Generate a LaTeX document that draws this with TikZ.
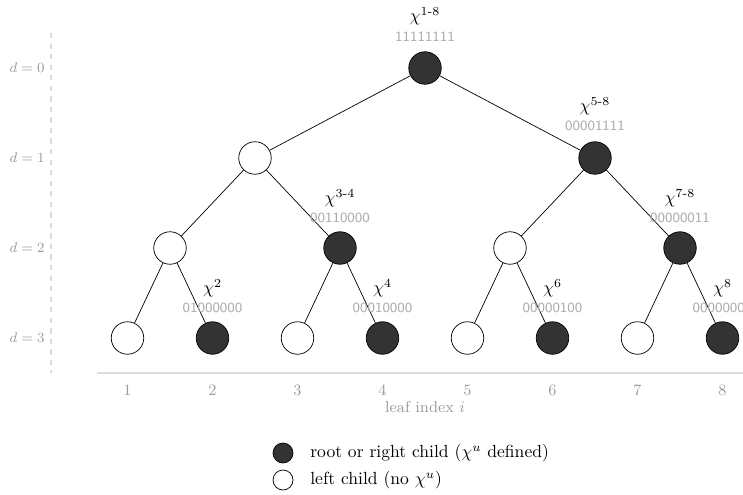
\documentclass[tikz,border=0pt]{standalone}
\usepackage{amsmath}
\usepackage{xcolor}
\usepackage{tikz}
\usetikzlibrary{positioning}

\definecolor{darkfill}{HTML}{333333}
\definecolor{labelgray}{HTML}{9A9A9A}
\definecolor{codegray}{HTML}{ACACAC}
\definecolor{rulegray}{HTML}{DCDCDC}

\begin{document}
\begin{tikzpicture}[on grid, node distance=1.8cm,
    treenode/.style={circle, draw, thin, minimum size=0.65cm, inner sep=0pt},
    chinode/.style={treenode, fill=darkfill},
    plainnode/.style={treenode, fill=white},
    chitext/.style={inner sep=0pt},
    codetext/.style={inner sep=0pt, text=codegray, font=\footnotesize\sffamily},
    depthtext/.style={anchor=east, inner sep=0pt, text=labelgray, font=\footnotesize},
    axistext/.style={inner sep=0pt, text=labelgray, font=\small}]
\useasboundingbox (0,0) rectangle (14.86,-9.9);

% Level 0
\node [chinode] (r18) at (8.5,-1.36) {};

% Level 1
\node [plainnode, below left=1.8cm and 3.4cm of r18] (a14) {};
\node [chinode, below right=1.8cm and 3.4cm of r18] (a58) {};

% Level 2
\node [plainnode, below left=1.8cm and 1.7cm of a14] (a12) {};
\node [chinode, below right=1.8cm and 1.7cm of a14] (a34) {};
\node [plainnode, below left=1.8cm and 1.7cm of a58] (a56) {};
\node [chinode, below right=1.8cm and 1.7cm of a58] (a78) {};

% Level 3 (leaves)
\node [plainnode, below left=1.8cm and 0.85cm of a12] (l1) {};
\node [chinode, below right=1.8cm and 0.85cm of a12] (l2) {};
\node [plainnode, below left=1.8cm and 0.85cm of a34] (l3) {};
\node [chinode, below right=1.8cm and 0.85cm of a34] (l4) {};
\node [plainnode, below left=1.8cm and 0.85cm of a56] (l5) {};
\node [chinode, below right=1.8cm and 0.85cm of a56] (l6) {};
\node [plainnode, below left=1.8cm and 0.85cm of a78] (l7) {};
\node [chinode, below right=1.8cm and 0.85cm of a78] (l8) {};

% Edges
\draw (r18) -- (a14);
\draw (r18) -- (a58);
\draw (a14) -- (a12);
\draw (a14) -- (a34);
\draw (a58) -- (a56);
\draw (a58) -- (a78);
\draw (a12) -- (l1);
\draw (a12) -- (l2);
\draw (a34) -- (l3);
\draw (a34) -- (l4);
\draw (a56) -- (l5);
\draw (a56) -- (l6);
\draw (a78) -- (l7);
\draw (a78) -- (l8);

% Labels of the filled nodes
\node [codetext, above=0.2cm of r18.north] (c18) {11111111};
\node [chitext, above=0.4cm of c18] (x18) {$\chi^{\text{1-8}}$};
\node [codetext, above=0.2cm of a58.north] (c58) {00001111};
\node [chitext, above=0.4cm of c58] (x58) {$\chi^{\text{5-8}}$};
\node [codetext, above=0.16cm of a34.north] (c34) {00110000};
\node [chitext, above=0.4cm of c34] (x34) {$\chi^{\text{3-4}}$};
\node [codetext, above=0.16cm of a78.north] (c78) {00000011};
\node [chitext, above=0.4cm of c78] (x78) {$\chi^{\text{7-8}}$};
\node [codetext, above=0.16cm of l2.north] (c2) {01000000};
\node [chitext, above=0.4cm of c2] (x2) {$\chi^{2}$};
\node [codetext, above=0.16cm of l4.north] (c4) {00010000};
\node [chitext, above=0.4cm of c4] (x4) {$\chi^{4}$};
\node [codetext, above=0.16cm of l6.north] (c6) {00000100};
\node [chitext, above=0.4cm of c6] (x6) {$\chi^{6}$};
\node [codetext, above=0.16cm of l8.north] (c8) {00000001};
\node [chitext, above=0.4cm of c8] (x8) {$\chi^{8}$};

% Depth axis
\node [depthtext] (d0) at (0.9,-1.36) {$d=0$};
\node [depthtext] (d1) at (0.9,-3.16) {$d=1$};
\node [depthtext] (d2) at (0.9,-4.96) {$d=2$};
\node [depthtext] (d3) at (0.9,-6.76) {$d=3$};
\coordinate (dtop) at (1.02,-0.66);
\coordinate (dbot) at (1.02,-7.46);
\draw [rulegray, dashed, thick] (dtop) -- (dbot);

% Leaf axis
\coordinate (ax0) at (1.94,-7.46);
\coordinate (ax1) at (14.86,-7.46);
\draw [rulegray, thick] (ax0) -- (ax1);
\foreach \i in {1,...,8}
  \node [axistext, below=1.04cm of l\i] (i\i) {\i};
\node [axistext, below=0.34cm of i4, xshift=0.85cm] (ilabel) {leaf index $i$};

% Legend
\node [chinode, minimum size=0.4cm] (keyfill) at (5.66,-9.06) {};
\node [plainnode, minimum size=0.4cm, below=0.54cm of keyfill] (keyopen) {};
\node [inner sep=0pt, right=0.54cm of keyfill.center, anchor=west] (keyfilltext) {root or right child ($\chi^{u}$ defined)};
\node [inner sep=0pt, right=0.54cm of keyopen.center, anchor=west] (keyopentext) {left child (no $\chi^{u}$)};

\end{tikzpicture}
\end{document}
